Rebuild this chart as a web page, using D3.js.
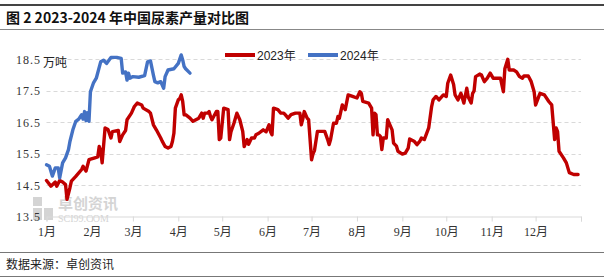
<!DOCTYPE html>
<html>
<head>
<meta charset="utf-8">
<script src="https://cdn.jsdelivr.net/npm/d3@7"></script>
<style>
  body { margin: 0; background: #fff; }
  svg { display: block; }
</style>
</head>
<body>
<div id="chart"></div>
<script>
// 2023 daily-ish production (10k tonnes), month-day positions
const dates2023 = ['01-01','01-04','01-07','01-08','01-10','01-12','01-14','01-15','01-17','01-18','01-21','01-25','01-26','01-28','01-30',
  '02-03','02-05','02-06','02-07','02-08','02-10','02-12','02-14','02-15','02-19','02-20','02-22','02-24','02-25','02-28',
  '03-02','03-04','03-07','03-08','03-12','03-13','03-15','03-17','03-20','03-21','03-23','03-25','03-27','03-28','03-29','03-30',
  '04-01','04-02','04-03','04-04','04-05','04-06','04-09','04-11','04-13','04-15','04-17','04-18','04-19','04-21','04-22','04-23','04-24','04-27','04-28','04-29','04-30',
  '05-02','05-05','05-06','05-07','05-09','05-11','05-13','05-15','05-16','05-18','05-19','05-21','05-23','05-24','05-26','05-29','05-31',
  '06-02','06-03','06-04','06-05','06-08','06-10','06-12','06-13','06-15','06-17','06-20','06-23','06-24','06-25','06-26','06-28','06-29',
  '07-01','07-02','07-03','07-05','07-10','07-12','07-13','07-14','07-16','07-18','07-19','07-20','07-22','07-24','07-26','07-29',
  '08-01','08-03','08-04','08-05','08-09','08-11','08-12','08-13','08-14','08-15','08-16','08-17','08-18','08-19','08-21','08-22','08-23','08-25','08-26','08-28','08-29',
  '09-01','09-03','09-05','09-06','09-09','09-11','09-13','09-14','09-16','09-19','09-21','09-22','09-24','09-26','09-29',
  '10-01','10-02','10-04','10-06','10-07','10-09','10-11','10-13','10-15','10-16','10-18','10-19','10-20','10-21','10-24','10-25','10-27','10-29','10-31',
  '11-02','11-04','11-07','11-09','11-10','11-12','11-13','11-16','11-18','11-20','11-22','11-23','11-26','11-28','11-30',
  '12-01','12-03','12-04','12-07','12-10','12-12','12-14','12-15','12-16','12-17','12-20','12-22','12-24','12-27','12-30'];
const values2023 = [14.65,14.47,14.6,14.47,14.65,14.6,14.52,14.05,14.42,14.63,14.78,15.0,15.1,14.95,15.31,
  15.37,15.4,15.73,15.6,15.21,16.32,16.27,16.0,16.2,16.24,15.89,16.1,16.24,16.58,16.79,
  17.0,17.11,17.05,16.95,16.84,16.79,16.42,16.26,16.0,15.9,15.73,15.68,15.73,15.89,16.15,16.95,
  17.21,17.25,17.37,17.16,16.74,16.74,16.63,16.53,16.58,16.63,16.79,16.63,16.79,16.79,16.84,16.68,16.58,16.84,16.84,15.95,16.0,
  16.95,16.9,15.95,16.2,16.47,16.79,16.58,16.21,15.73,15.95,15.8,16.0,16.0,16.1,16.15,16.26,16.2,
  16.42,16.2,16.1,16.95,16.9,16.79,16.79,16.74,16.63,16.74,16.79,16.79,16.42,16.6,16.84,16.63,16.58,
  15.31,15.5,15.6,16.21,16.21,15.95,15.79,15.95,16.47,16.47,16.68,16.63,17.05,16.9,17.37,17.32,
  17.27,17.47,17.42,17.16,17.11,16.95,16.1,16.79,16.74,16.1,16.1,16.05,15.63,16.0,16.0,16.58,16.47,16.26,15.84,15.74,15.58,
  15.49,15.52,15.68,15.97,15.9,15.79,15.9,16.0,15.95,16.32,17.0,17.21,17.32,17.21,17.37,
  17.32,17.74,18.0,17.7,17.37,17.21,17.42,17.11,17.58,17.3,17.11,17.42,17.5,17.95,18.03,18.0,17.79,17.9,18.06,
  17.9,17.9,17.9,17.47,18.2,18.5,18.16,18.16,18.1,17.95,17.9,17.97,17.97,17.79,17.47,
  17.05,17.3,17.42,17.37,17.16,17.05,15.95,16.32,16.2,15.58,15.37,15.21,14.9,14.84,14.84];

// 2024 series, same month-day positions
const dates2024 = ['01-01','01-03','01-05','01-07','01-09','01-10','01-12','01-14','01-16','01-17','01-19','01-21','01-23','01-25','01-26','01-27','01-28','01-29','01-30','01-31',
  '02-02','02-04','02-07','02-09','02-11','02-14','02-18','02-21','02-22','02-24','02-25','02-26','02-27',
  '03-01','03-05','03-09','03-11','03-13','03-15','03-16','03-18','03-20','03-22','03-23','03-25','03-29',
  '04-01','04-03','04-04','04-05','04-06','04-09'];
const values2024 = [15.15,15.1,14.79,15.05,15.05,14.73,15.21,15.37,15.63,15.89,16.26,16.53,16.6,16.74,16.6,16.84,16.55,16.8,16.53,17.47,
  17.74,17.9,18.42,18.47,18.37,18.56,18.56,18.53,18.06,18.1,17.84,18.06,17.9,
  17.95,17.93,17.98,18.42,18.45,18.0,17.79,17.75,17.79,17.58,17.95,18.16,18.2,
  18.37,18.64,18.48,18.27,18.2,18.06];

const monthLabels = ['1月','2月','3月','4月','5月','6月','7月','8月','9月','10月','11月','12月',''];
const yTicks = [13.5, 14.5, 15.5, 16.5, 17.5, 18.5];
const seriesNames = ['2023年', '2024年'];
const seriesColors = ['#C00000', '#4472C4'];

const width = 604, height = 279;
const parse = d3.timeParse('%Y-%m-%d');
const toDate = (md) => parse('2023-' + md);

const svg = d3.select('#chart').append('svg')
  .attr('width', width).attr('height', height);

// title block
svg.append('line').attr('x1', 0).attr('x2', width).attr('y1', 5).attr('y2', 5)
  .attr('stroke', '#444').attr('stroke-width', 2);
svg.append('text').attr('x', 6).attr('y', 23)
  .attr('font-family', '"Noto Sans CJK SC", sans-serif').attr('font-size', 14)
  .attr('font-weight', 'bold').attr('fill', '#111')
  .text('图 2 2023-2024 年中国尿素产量对比图');
svg.append('line').attr('x1', 0).attr('x2', width).attr('y1', 29.5).attr('y2', 29.5)
  .attr('stroke', '#888').attr('stroke-width', 1);

// footer
svg.append('line').attr('x1', 0).attr('x2', width).attr('y1', 252.5).attr('y2', 252.5)
  .attr('stroke', '#777').attr('stroke-width', 1);
svg.append('text').attr('x', 6).attr('y', 269)
  .attr('font-family', '"Noto Sans CJK SC", sans-serif').attr('font-size', 12)
  .attr('fill', '#222').text('数据来源：卓创资讯');
svg.append('line').attr('x1', 0).attr('x2', width).attr('y1', 276.5).attr('y2', 276.5)
  .attr('stroke', '#777').attr('stroke-width', 1);

// scales
const x = d3.scaleTime()
  .domain([parse('2023-01-01'), parse('2024-01-01')])
  .range([46.5, 581]);
const y = d3.scaleLinear().domain([13.5, 18.5]).range([216.7, 59.3]);

// watermark
const wm = svg.append('g').attr('fill', '#d4d4d4');
wm.append('rect').attr('x', 33).attr('y', 197).attr('width', 9).attr('height', 9);
wm.append('rect').attr('x', 33).attr('y', 208).attr('width', 9).attr('height', 12);
wm.append('rect').attr('x', 44).attr('y', 208).attr('width', 9).attr('height', 12);
wm.append('text').attr('x', 58).attr('y', 209)
  .attr('font-family', '"Noto Sans CJK SC", sans-serif').attr('font-size', 15).attr('font-weight', 'bold')
  .text('卓创资讯');
wm.append('text').attr('x', 58).attr('y', 222)
  .attr('font-family', '"Liberation Serif", serif').attr('font-size', 10)
  .text('SCI99.COM');

// gridlines
svg.append('g').selectAll('line')
  .data(yTicks.slice(1))
  .join('line')
  .attr('x1', 46.5).attr('x2', 581)
  .attr('y1', (d) => Math.round(y(d)) + 0.5).attr('y2', (d) => Math.round(y(d)) + 0.5)
  .attr('stroke', '#d9d9d9').attr('stroke-dasharray', '4,3');

// y axis labels
const yAxis = svg.append('g').attr('transform', 'translate(41,0)')
  .call(d3.axisLeft(y).tickValues(yTicks).tickSize(0).tickPadding(0).tickFormat(d3.format('.1f')));
yAxis.select('.domain').remove();
yAxis.selectAll('text')
  .attr('font-family', '"Liberation Serif", serif').attr('font-size', 12)
  .attr('letter-spacing', '1px').attr('fill', '#333');

svg.append('text').attr('x', 43).attr('y', 67)
  .attr('font-family', '"Noto Sans CJK SC", sans-serif').attr('font-size', 12)
  .attr('fill', '#222').text('万吨');

// x axis
const monthTicks = d3.timeMonth.range(parse('2023-01-01'), parse('2024-01-02'));
const xAxis = svg.append('g').attr('transform', 'translate(0,216.5)')
  .call(d3.axisBottom(x).tickValues(monthTicks).tickSize(5).tickPadding(6)
    .tickFormat((d, i) => monthLabels[i]));
xAxis.select('.domain').attr('stroke', '#d9d9d9');
xAxis.selectAll('.tick line').attr('stroke', '#d9d9d9');
xAxis.selectAll('text')
  .attr('font-family', '"Liberation Serif", "Noto Sans CJK SC", serif').attr('font-size', 12)
  .attr('fill', '#333');

// lines
const line = d3.line()
  .x((d) => x(d.date))
  .y((d) => y(d.v));

const series = [
  dates2023.map((md, i) => ({ date: toDate(md), v: values2023[i] })),
  dates2024.map((md, i) => ({ date: toDate(md), v: values2024[i] }))
];

svg.append('g').selectAll('path')
  .data(series)
  .join('path')
  .attr('d', line)
  .attr('fill', 'none')
  .attr('stroke', (_, i) => seriesColors[i])
  .attr('stroke-width', 3.4)
  .attr('stroke-linejoin', 'round')
  .attr('stroke-linecap', 'round');

// legend
const legend = svg.append('g').selectAll('g')
  .data(seriesNames)
  .join('g')
  .attr('transform', (_, i) => `translate(${225 + i * 83},55)`);
legend.append('line').attr('x1', 0).attr('x2', 30).attr('y1', 0).attr('y2', 0)
  .attr('stroke', (_, i) => seriesColors[i]).attr('stroke-width', 4);
legend.append('text').attr('x', 32).attr('y', 4.5)
  .attr('font-family', '"Liberation Sans", "Noto Sans CJK SC", sans-serif').attr('font-size', 12)
  .attr('fill', '#222').text((d) => d);
</script>
</body>
</html>
